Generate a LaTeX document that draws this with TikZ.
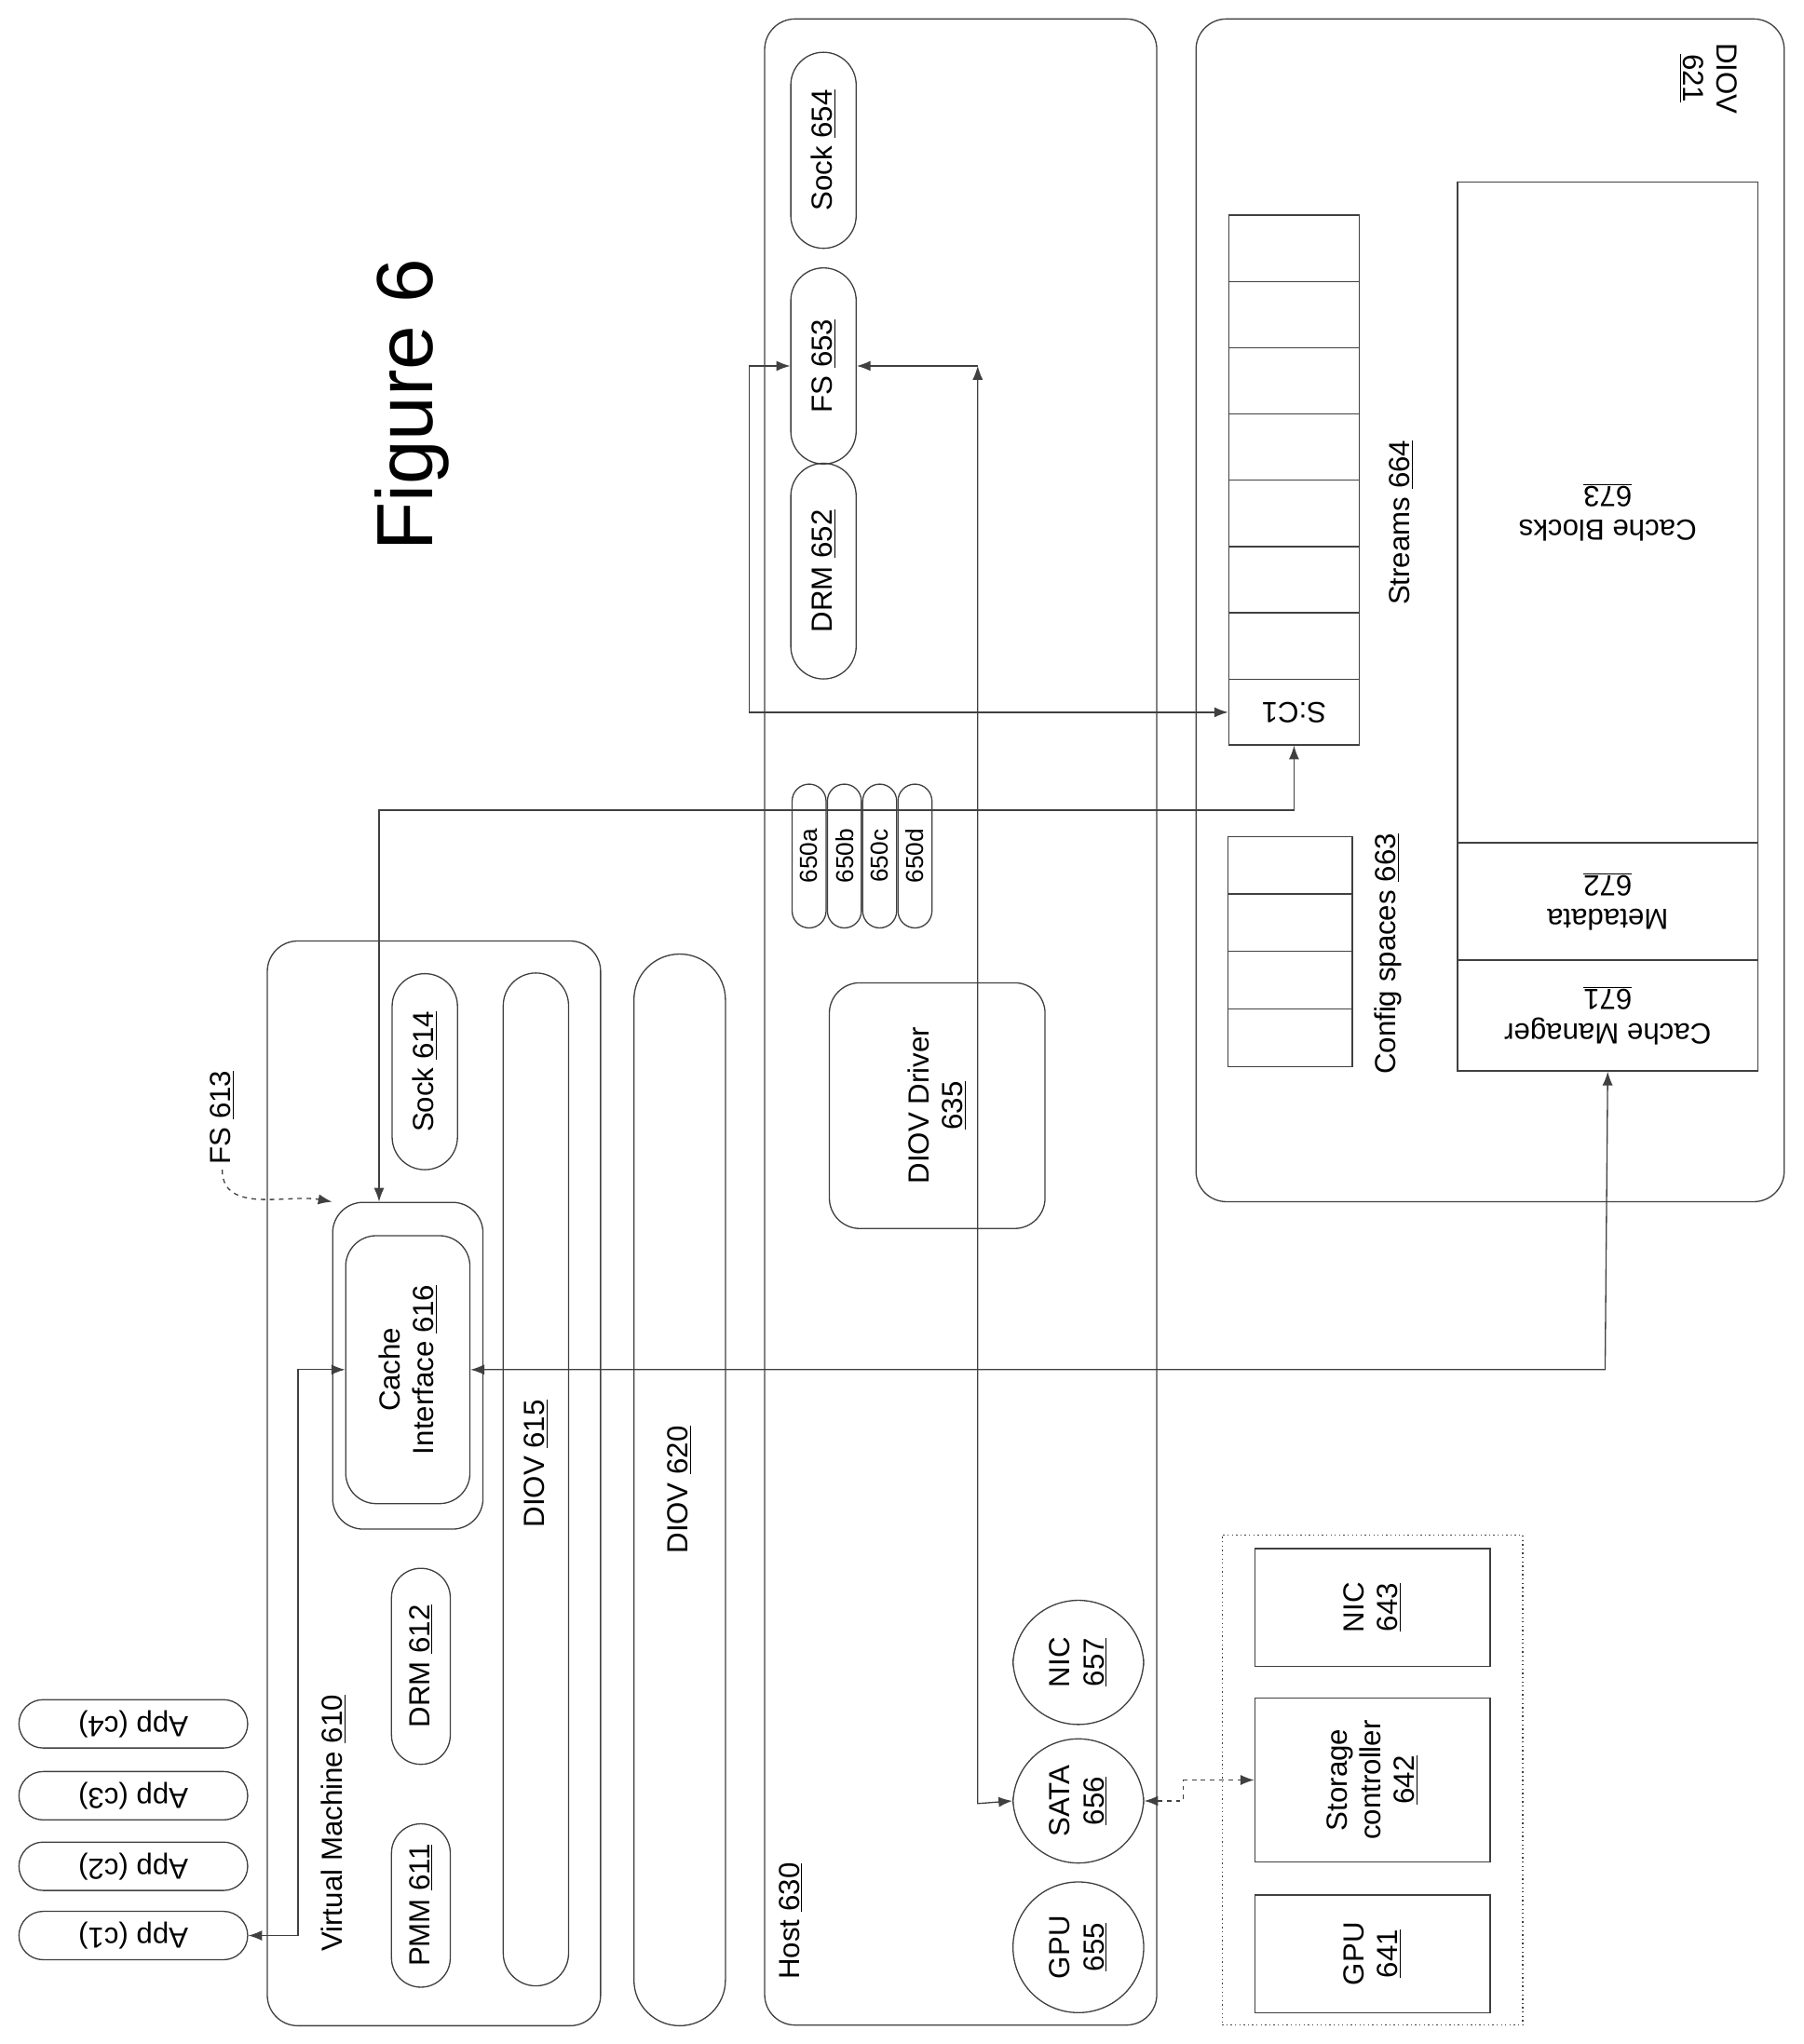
\documentclass[tikz,border=0pt]{standalone}
\usepackage{fontspec}
\setmainfont{Liberation Sans}
\usetikzlibrary{arrows.meta}
\begin{document}
\begin{tikzpicture}[x=0.03cm,y=-0.03cm,
  every node/.style={font=\fontsize{19}{22}\selectfont},
  line/.style={draw=black!75,line width=0.8pt},
  box/.style 2 args={line,rectangle,minimum width=#1*0.03cm,minimum height=#2*0.03cm,inner sep=0pt,align=center},
  pill/.style 2 args={box={#1}{#2},rounded corners=#2*0.015cm},
  rbox/.style 2 args={box={#1}{#2},rounded corners=0.7cm},
  link/.style={line,{Latex[length=9pt]}-{Latex[length=9pt]}},
  up/.style={rotate=90},
  flip/.style={rotate=180}]
\useasboundingbox (0,0) rectangle (1380,1564);

% title
\node[up,font=\fontsize{52}{60}\selectfont] (title) at (315,310) {Figure 6};

% applications
\node[pill={175}{37},flip] (c1) at (102,1481) {App (c1)};
\node[pill={175}{37},flip] (c2) at (102,1428) {App (c2)};
\node[pill={175}{37},flip] (c3) at (102,1374) {App (c3)};
\node[pill={175}{37},flip] (c4) at (102,1319) {App (c4)};

% virtual machine
\node[rbox={830}{255},up] (vm) at (332,1135) {};
\node[up] (vmlabel) at (255,1395) {Virtual Machine \underline{610}};
\node[pill={125}{45},up] (pmm) at (322,1458) {PMM \underline{611}};
\node[pill={150}{45},up] (drm) at (322,1275) {DRM \underline{612}};
\node[rbox={250}{115},up] (cache) at (312,1045) {};
\node[rbox={205}{95},up] (ci) at (312,1048) {Cache\\Interface \underline{616}};
\node[pill={150}{50},up] (sock) at (325,820) {Sock \underline{614}};
\node[pill={775}{50},up] (diov615) at (410,1132) {};
\node[up] (diov615label) at (410,1120) {DIOV \underline{615}};
\node[up] (fs613) at (170,855) {FS \underline{613}};
\draw[line,dashed,-{Latex[length=9pt]}] (fs613.west) to[out=-90,in=170] (cache.north east);

% DIOV 620
\node[pill={820}{70},up] (diov620) at (520,1140) {};
\node[up] (diov620label) at (520,1140) {DIOV \underline{620}};

% host
\node[rbox={1535}{300},up] (host) at (735,782) {};
\node[up] (hostlabel) at (605,1470) {Host \underline{630}};
\node[pill={165}{50},up] (drm652) at (630,437) {DRM \underline{652}};
\node[pill={150}{50},up] (fs653) at (630,280) {FS \underline{653}};
\node[pill={150}{50},up] (sock654) at (630,115) {Sock \underline{654}};
\foreach \n/\x in {a/619,b/646,c/673,d/700}
  \node[pill={110}{26},up,font=\fontsize{16}{18}\selectfont] (v650\n) at (\x,655) {650\n};
\node[rbox={188}{165},up] (driver) at (717,846) {DIOV Driver\\\underline{635}};
\node[pill={100}{100},up] (gpu655) at (825,1490) {GPU\\\underline{655}};
\node[pill={95}{100},up] (sata) at (825,1378) {SATA\\\underline{656}};
\node[pill={95}{100},up] (nic657) at (825,1272) {NIC\\\underline{657}};

% DIOV 621
\node[rbox={905}{450},up] (diov621) at (1140,467) {};
\node[rotate=-90,align=center] (diov621label) at (1307,60) {DIOV\\\underline{621}};
\foreach \i in {0,...,3}
  \node[box={95}{44}] (cfg\i) at (987,662+\i*44) {};
\node[up] (cfglabel) at (1062,730) {Config spaces \underline{663}};
\node[box={100}{50},flip] (sc1) at (990,545) {S:C1};
\foreach \i in {0,...,6}
  \node[box={100}{50.7}] (st\i) at (990,190+\i*50.7) {};
\node[up] (stlabel) at (1072,400) {Streams \underline{664}};
\node[box={230}{85},flip] (cm) at (1230,777) {Cache Manager\\\underline{671}};
\node[box={230}{90},flip] (meta) at (1230,690) {Metadata\\\underline{672}};
\node[box={230}{505},flip] (blocks) at (1230,392) {};
\node[flip,align=center] (blockslabel) at (1230,392) {Cache Blocks\\\underline{673}};

% devices
\node[box={230}{375},dotted] (dev) at (1050,1362) {};
\node[box={90}{180},up] (gpu641) at (1050,1495) {GPU\\\underline{641}};
\node[box={125}{180},up] (stc) at (1050,1362) {Storage\\controller\\\underline{642}};
\node[box={90}{180},up] (nic643) at (1050,1230) {NIC\\\underline{643}};

% connectors
\coordinate (b1) at (228,1048);
\coordinate (b2) at (1228,1048);
\coordinate (b3) at (290,620);
\coordinate (b4) at (990,620);
\coordinate (b5) at (573,280);
\coordinate (b6) at (573,545);
\coordinate (b7) at (748,280);
\coordinate (b8) at (748,1380);
\draw[link] (c1.west) -| (b1) -- (ci.north);
\draw[link] (ci.south) -- (b2) -- (cm.north);
\draw[link] (b3 |- cache.east) -- (b3) -- (b4) -- (sc1.north);
\draw[link] (fs653.north) -- (b5) -- (b6) -- (sc1.east);
\draw[link] (b7) -- (b8) -- (sata.north);
\draw[line,-{Latex[length=9pt]}] (b7) -- (fs653.south);
\draw[link,dashed] (sata.south) -- ++(30,0) |- (stc.north);
\end{tikzpicture}
\end{document}
